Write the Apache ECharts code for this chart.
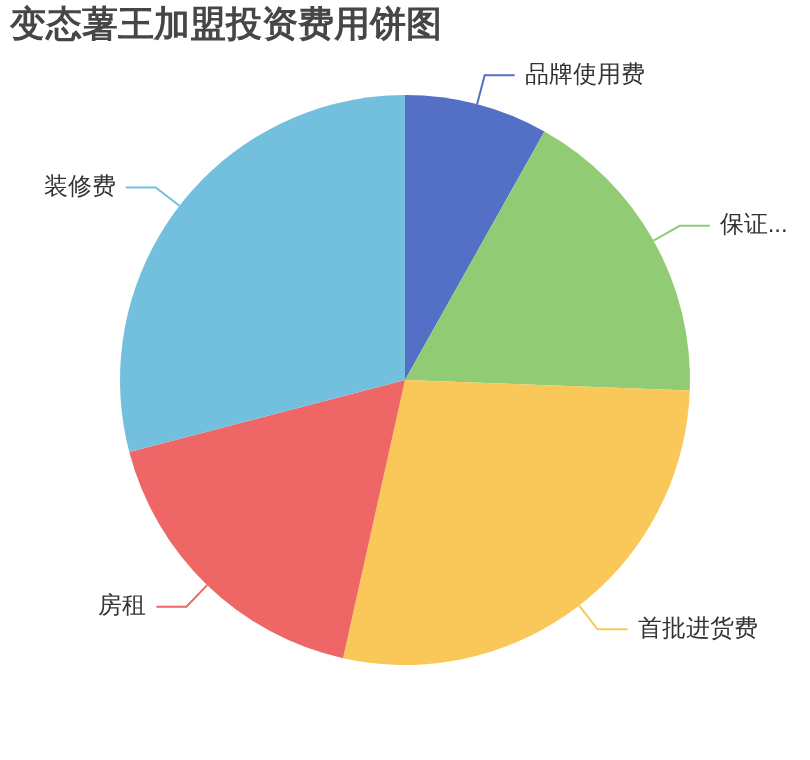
<!DOCTYPE html>
<html>
<head>
<meta charset="utf-8">
<script src="https://cdn.jsdelivr.net/npm/echarts@6/dist/echarts.min.js"></script>
<style>html,body{margin:0;padding:0;background:#fff;}#main{width:810px;height:760px;}</style>
</head>
<body>
<div id="main"></div>
<script>
const titleText = '变态薯王加盟投资费用饼图';
const categories = ['品牌使用费', '保证金及押金', '首批进货费', '房租', '装修费'];
const values = [1.4, 3, 4.8, 3, 5];

const chart = echarts.init(document.getElementById('main'));
chart.setOption({
  animation: false,
  title: {
    text: titleText,
    left: 5,
    top: 3,
    textStyle: { fontSize: 36, fontWeight: 'bold', color: '#464646' }
  },
  color: ['#5470c6', '#91cc75', '#fac858', '#ee6666', '#73c0de'],
  series: [{
    type: 'pie',
    radius: '75%',
    center: ['50%', '50%'],
    startAngle: 90,
    label: { fontSize: 24, color: '#333', distanceToLabelLine: 10 },
    labelLine: { length: 30, length2: 30, lineStyle: { width: 2 } },
    data: categories.map((n, i) => ({ name: n, value: values[i] }))
  }]
});
</script>
</body>
</html>
